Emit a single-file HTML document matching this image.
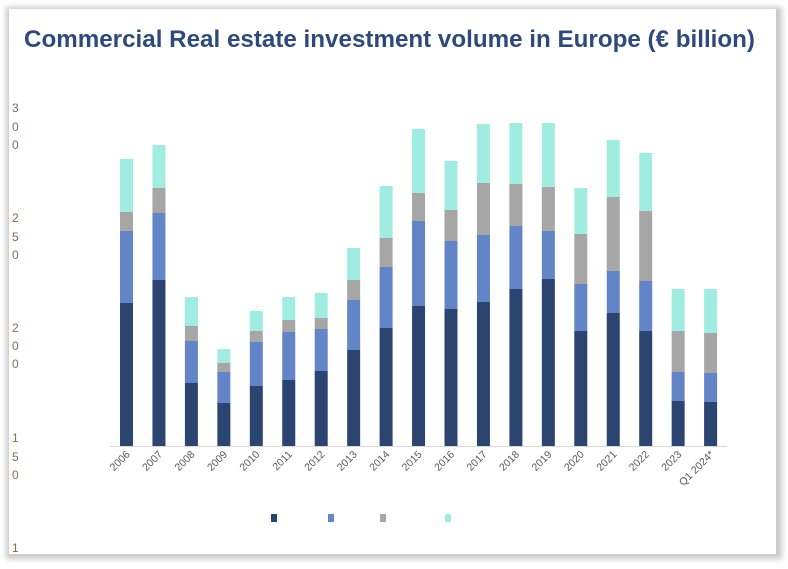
<!DOCTYPE html>
<html><head><meta charset="utf-8"><style>
html,body{margin:0;padding:0;background:#fff;}
body{width:788px;height:564px;overflow:hidden;}
</style></head><body>
<svg width="788" height="564" xmlns="http://www.w3.org/2000/svg" font-family="Liberation Sans, sans-serif">
<defs><filter id="sh" x="-5%" y="-5%" width="110%" height="110%"><feGaussianBlur stdDeviation="3"/></filter></defs>
<rect x="0" y="0" width="788" height="564" fill="#fff"/>
<rect x="6" y="7" width="776" height="552" fill="#c8c8c8" filter="url(#sh)"/>
<rect x="9" y="9" width="767" height="545" fill="#fff"/>
<text x="24" y="47" font-size="24" font-weight="bold" fill="#2f4a7a" textLength="731" lengthAdjust="spacingAndGlyphs">Commercial Real estate investment volume in Europe (€ billion)</text>
<g font-size="12" fill="#8a6a50">
<text x="12" y="112">3</text><text x="12" y="131">0</text><text x="12" y="149">0</text>
<text x="12" y="222">2</text><text x="12" y="241">5</text><text x="12" y="259">0</text>
<text x="12" y="332">2</text><text x="12" y="350">0</text><text x="12" y="368">0</text>
<text x="12" y="442">1</text><text x="12" y="461">5</text><text x="12" y="479">0</text>
<text x="12" y="552">1</text>
</g>
<line x1="110" y1="446.5" x2="727" y2="446.5" stroke="#d9d9d9" stroke-width="1"/>
<g id="bars"></g>
<g id="labels" font-size="10.5" fill="#595959"></g>
<rect x="271" y="514" width="6" height="8" fill="#2c4470"/>
<rect x="328" y="514" width="6" height="8" fill="#6384c6"/>
<rect x="380" y="514" width="6" height="8" fill="#a6a6a6"/>
<rect x="445" y="514" width="6" height="8" fill="#a0ece0"/>
</svg>
<script>
var d=[[303,231,212,159],[280,213,188,145],[383,341,326,297],[403,372,363,349],[386,342,331,311],[380,332,320,297],[371,329,318,293],[350,300,280,248],[328,267,238,186],[306,221,193,129],[309,241,210,161],[302,235,183,124],[289,226,184,123],[279,231,187,123],[331,284,234,188],[313,271,197,140],[331,281,211,153],[401,372,331,289],[402,373,333,289]];
var lab=["2006","2007","2008","2009","2010","2011","2012","2013","2014","2015","2016","2017","2018","2019","2020","2021","2022","2023","Q1 2024*"];
var c=["#2c4470","#6384c6","#a6a6a6","#a0ece0"];
var ns="http://www.w3.org/2000/svg",g=document.getElementById("bars"),L=document.getElementById("labels");
d.forEach(function(b,i){var cx=126.5+i*32.45,bot=446;
for(var k=0;k<4;k++){var r=document.createElementNS(ns,"rect");r.setAttribute("x",cx-6.5);r.setAttribute("width",13);r.setAttribute("y",b[k]);r.setAttribute("height",bot-b[k]);r.setAttribute("fill",c[k]);g.appendChild(r);bot=b[k];}
var t=document.createElementNS(ns,"text");t.setAttribute("text-anchor","end");t.setAttribute("transform","translate("+(cx+4)+",455) rotate(-45)");t.textContent=lab[i];L.appendChild(t);});
</script>
</body></html>
